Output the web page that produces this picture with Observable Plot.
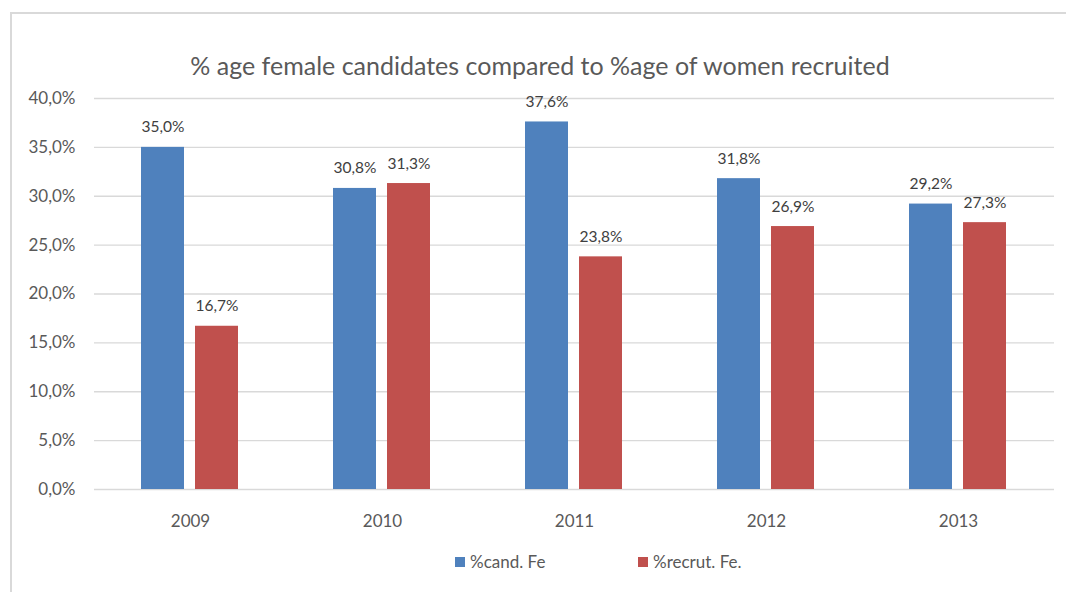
<!DOCTYPE html>
<html><head><meta charset="utf-8">
<script src="https://cdn.jsdelivr.net/npm/d3@7"></script>
<script src="https://cdn.jsdelivr.net/npm/@observablehq/plot@0.6"></script>
<style>
body{margin:0;background:#fff;font-family:Lato,"Open Sans",sans-serif;}
#wrap{position:relative;width:1066px;height:592px;overflow:hidden;}
#frame{position:absolute;left:10px;top:12px;width:1080px;height:620px;border-left:2px solid #d9d9d9;border-top:2px solid #d9d9d9;box-sizing:border-box;}
#title{position:absolute;left:0;width:1080px;top:50px;text-align:center;font-size:25px;color:#595959;}
#chart{position:absolute;left:0;top:80px;}
#legend{position:absolute;top:551px;left:0;width:1066px;font-size:17px;color:#595959;}
.li{position:absolute;display:flex;align-items:center;}
.sw{width:10px;height:10px;margin-right:5px;}
</style></head>
<body><div id="wrap"><div id="frame"></div>
<div id="title">% age female candidates compared to %age of women recruited</div>
<div id="chart"></div>
<div id="legend"></div></div>
<script>
const years = ["2009","2010","2011","2012","2013"];
const seriesNames = ["%cand. Fe","%recrut. Fe."];
const candValues = [35.0, 30.8, 37.6, 31.8, 29.2];
const recrutValues = [16.7, 31.3, 23.8, 26.9, 27.3];
const yTicks = [0,5,10,15,20,25,30,35,40];
const colors = ["#4f81bd","#c0504d"];

const data = [];
years.forEach((y,i)=>{
  data.push({year:y, series:seriesNames[0], value:candValues[i]});
  data.push({year:y, series:seriesNames[1], value:recrutValues[i]});
});
const fmt = v => d3.format(".1f")(v).replace(".", ",") + "%";

const plot = Plot.plot({
  width:1066, height:460,
  marginLeft:92, marginRight:10, marginTop:18, marginBottom:51,
  style:{fontFamily:"Lato, 'Open Sans', sans-serif", background:"transparent"},
  fx:{domain:years, padding:0, label:null},
  x:{domain:seriesNames, paddingInner:0.2, paddingOuter:0.85, axis:null},
  y:{domain:[0,40], ticks:yTicks, label:null},
  color:{domain:seriesNames, range:colors},
  marks:[
    Plot.gridY(yTicks, {stroke:"#d9d9d9", strokeOpacity:1, strokeWidth:1.3}),
    Plot.axisY({ticks:yTicks, tickSize:0, tickPadding:19, tickFormat:fmt, fontSize:17, fill:"#595959", label:null}),
    Plot.axisFx({anchor:"bottom", tickSize:0, tickPadding:25, fontSize:17, fill:"#595959", label:null}),
    Plot.barY(data, {fx:"year", x:"series", y:"value", fill:"series"}),
    Plot.text(data, {fx:"year", x:"series", y:"value", text:d=>fmt(d.value), dy:-15, lineAnchor:"bottom", fontSize:15.5, fill:"#404040"})
  ]
});
document.getElementById("chart").appendChild(plot);

const leg = document.getElementById("legend");
const lx = [455, 638];
seriesNames.forEach((s,i)=>{
  const d = document.createElement("div");
  d.className="li"; d.style.left = lx[i]+"px";
  d.innerHTML = `<span class="sw" style="background:${colors[i]}"></span><span>${s}</span>`;
  leg.appendChild(d);
});
</script></body></html>
